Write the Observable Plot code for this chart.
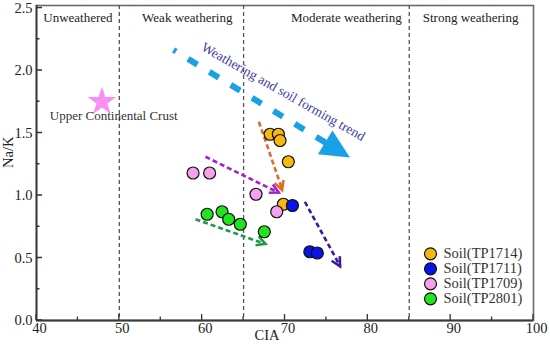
<!DOCTYPE html>
<html><head><meta charset="utf-8">
<script src="https://cdn.jsdelivr.net/npm/d3@7"></script>
<script src="https://cdn.jsdelivr.net/npm/@observablehq/plot@0.6"></script>
<style>body{margin:0;background:#fff} svg text{font-family:"Liberation Serif","DejaVu Serif",serif}</style>
</head><body><div id="chart"></div>
<script>
// ---- axis ticks ----
const xTicks = [40, 50, 60, 70, 80, 90, 100];
const xMinorTicks = [45, 55, 65, 75, 85, 95];
const yTicks = [0, 0.5, 1.0, 1.5, 2.0, 2.5];
const yMinorTicks = [0.25, 0.75, 1.25, 1.75, 2.25];

// ---- weathering zones ----
const boundaries = [50, 65, 85];
const zoneNames = ["Unweathered", "Weak weathering", "Moderate weathering", "Strong weathering"];
const zoneLabelX = [45, 58.2, 77.4, 92.4];

// ---- series ----
const seriesNames = ["Soil(TP1714)", "Soil(TP1711)", "Soil(TP1709)", "Soil(TP2801)"];
const seriesColors = ["#f7b90f", "#0a12e8", "#f7a0ee", "#22e41e"];
const tp1714CIA = [68.2, 69.2, 69.4, 70.4, 69.8];
const tp1714NaK = [1.49, 1.49, 1.44, 1.27, 0.93];
const tp1711CIA = [70.9, 73.0, 73.9];
const tp1711NaK = [0.92, 0.55, 0.54];
const tp1709CIA = [58.9, 60.9, 66.5, 69.0];
const tp1709NaK = [1.18, 1.18, 1.01, 0.87];
const tp2801CIA = [60.6, 62.4, 63.2, 64.6, 67.5];
const tp2801NaK = [0.85, 0.87, 0.81, 0.77, 0.71];

// ---- Upper Continental Crust ----
const uccName = "Upper Continental Crust";
const uccCIA = 47.9, uccNaK = 1.75;
const uccLabelCIA = 41.6, uccLabelNaK = 1.64;

// ---- series trend arrows ----
const arrowColors = ["#e2692c", "#a21fd2", "#3a1ba0", "#1d9a4c"];
const arrowFromCIA = [66.85, 60.4, 72.4, 59.2];
const arrowFromNaK = [1.59, 1.31, 0.95, 0.81];
const arrowToCIA = [69.7, 69.3, 76.7, 67.7];
const arrowToNaK = [1.04, 1.02, 0.43, 0.61];

// ---- overall trend ----
const trendLabel = "Weathering and soil forming trend";
const trendFrom = [56.6, 2.16];
const trendTo = [77.9, 1.30];
const trendLabelAt = [69.8, 1.83];
const trendColor = "#18a1e5";

const FONT = "'Liberation Serif', 'DejaVu Serif', serif";

// build tables
const pointTable = [
  ...tp1714CIA.map((c, i) => ({cia: c, nak: tp1714NaK[i], s: 0})),
  ...tp1711CIA.map((c, i) => ({cia: c, nak: tp1711NaK[i], s: 1})),
  ...tp1709CIA.map((c, i) => ({cia: c, nak: tp1709NaK[i], s: 2})),
  ...tp2801CIA.map((c, i) => ({cia: c, nak: tp2801NaK[i], s: 3}))
];
const arrowTable = arrowFromCIA.map((c, i) => ({
  x1: c, y1: arrowFromNaK[i], x2: arrowToCIA[i], y2: arrowToNaK[i], color: arrowColors[i]
}));

const NS = "http://www.w3.org/2000/svg";
function el(name, attrs) {
  const e = document.createElementNS(NS, name);
  for (const k in attrs) e.setAttribute(k, attrs[k]);
  return e;
}

function ticksMark(index, scales, values, dim) {
  const {x, y} = scales;
  const g = el("g", {});
  const y0 = dim.height - dim.marginBottom;
  const x0 = dim.marginLeft;
  let d = "";
  for (const t of xTicks) d += `M${x(t)},${y0}v-6`;
  for (const t of xMinorTicks) d += `M${x(t)},${y0}v-3.5`;
  for (const t of yTicks) d += `M${x0},${y(t)}h6`;
  for (const t of yMinorTicks) d += `M${x0},${y(t)}h3.5`;
  g.appendChild(el("path", {d, stroke: "#333", "stroke-width": 1.3, fill: "none"}));
  return g;
}

function arrowHeads(index, scales) {
  const {x, y} = scales;
  const g = el("g", {});
  for (const a of arrowTable) {
    const px1 = x(a.x1), py1 = y(a.y1), px2 = x(a.x2), py2 = y(a.y2);
    const ang = Math.atan2(py2 - py1, px2 - px1);
    const L = 10, w = Math.PI / 6.5;
    const ax = px2 - L * Math.cos(ang - w), ay = py2 - L * Math.sin(ang - w);
    const bx = px2 - L * Math.cos(ang + w), by = py2 - L * Math.sin(ang + w);
    g.appendChild(el("path", {
      d: `M${ax},${ay}L${px2},${py2}L${bx},${by}`,
      stroke: a.color, "stroke-width": 2.6, fill: "none",
      "stroke-linejoin": "miter", "stroke-linecap": "butt"
    }));
  }
  return g;
}

function trendArrow(index, scales) {
  const {x, y} = scales;
  const g = el("g", {});
  const x1 = x(trendFrom[0]), y1 = y(trendFrom[1]);
  const x2 = x(trendTo[0]), y2 = y(trendTo[1]);
  const dx = x2 - x1, dy = y2 - y1, L = Math.hypot(dx, dy);
  const ux = dx / L, uy = dy / L;
  const headLen = 29, half = 14;
  const bx = x2 - ux * headLen, by = y2 - uy * headLen;
  g.appendChild(el("line", {
    x1, y1, x2: bx + ux * 2, y2: by + uy * 2,
    stroke: trendColor, "stroke-width": 6,
    "stroke-dasharray": "11,14", "stroke-dashoffset": 8
  }));
  g.appendChild(el("path", {
    d: `M${x2},${y2}L${bx - uy * half},${by + ux * half}L${bx + uy * half},${by - ux * half}Z`,
    fill: trendColor
  }));
  return g;
}

const legendMarks = seriesNames.flatMap((name, i) => [
  Plot.dot([name], {frameAnchor: "bottom-right", dx: -103, dy: -66.7 + 15 * i,
    r: 6, fill: seriesColors[i], stroke: "#111", strokeWidth: 1.2}),
  Plot.text([name], {frameAnchor: "bottom-right", dx: -90, dy: -66.7 + 15 * i,
    text: d => d, textAnchor: "start", lineAnchor: "middle", fontSize: 14.5, fontFamily: FONT, fill: "#333"})
]);

const chart = Plot.plot({
  width: 550,
  height: 344,
  marginLeft: 36,
  marginRight: 17,
  marginTop: 5,
  marginBottom: 24,
  x: {domain: [40, 100], axis: null},
  y: {domain: [0, 2.52], axis: null},
  style: {fontFamily: FONT, fontSize: "14px", color: "#222", background: "#fff"},
  marks: [
    Plot.frame({stroke: "#6a6a6a", strokeWidth: 1.6}),
    Plot.ruleX(boundaries, {stroke: "#555", strokeWidth: 1.3, strokeDasharray: "4,3"}),
    Plot.ruleX([40], {stroke: "#3a3a3a", strokeWidth: 1.8}),
    Plot.ruleY([0], {stroke: "#3a3a3a", strokeWidth: 1.8}),
    ticksMark,
    // tick labels
    Plot.text(xTicks, {x: d => d, frameAnchor: "bottom", lineAnchor: "middle", dy: 8, dx: 3, text: d => String(d), fontSize: 14.5, fontFamily: FONT, fill: "#222"}),
    Plot.text(yTicks, {y: d => d, frameAnchor: "left", lineAnchor: "middle", dx: -4, textAnchor: "end", text: d => d.toFixed(1), fontSize: 14.5, fontFamily: FONT, fill: "#222"}),
    // axis labels
    Plot.text(["CIA"], {frameAnchor: "bottom", lineAnchor: "middle", dy: 15, dx: -18, text: d => d, fontSize: 14.5, fontFamily: FONT, fill: "#222"}),
    Plot.text(["Na/K"], {frameAnchor: "left", lineAnchor: "middle", dx: -28, dy: 5, rotate: -90, text: d => d, fontSize: 14.5, fontFamily: FONT, fill: "#222"}),
    // zone labels
    Plot.text(zoneNames, {x: (d, i) => zoneLabelX[i], frameAnchor: "top", lineAnchor: "middle", dy: 12, text: d => d, fontSize: 13, fontFamily: FONT, fill: "#222"}),
    // overall trend
    trendArrow,
    Plot.text([trendLabel], {x: trendLabelAt[0], y: trendLabelAt[1], rotate: 29.5, lineAnchor: "middle", text: d => d, fontSize: 13.5, fontFamily: FONT, fill: "#3e3e9c"}),
    // UCC
    Plot.dot([uccName], {x: uccCIA, y: uccNaK, symbol: "star", r: 9, fill: "#f98ff2"}),
    Plot.text([uccName], {x: uccLabelCIA, y: uccLabelNaK, lineAnchor: "middle", text: d => d, textAnchor: "start", fontSize: 13, fontFamily: FONT, fill: "#333"}),
    // series arrows
    Plot.link(arrowTable, {x1: "x1", y1: "y1", x2: "x2", y2: "y2", stroke: "color", strokeWidth: 2.6, strokeDasharray: "5,3"}),
    arrowHeads,
    // points
    Plot.dot(pointTable, {x: "cia", y: "nak", r: 6, fill: d => seriesColors[d.s], stroke: "#111", strokeWidth: 1.2}),
    ...legendMarks
  ]
});
document.getElementById("chart").appendChild(chart);
</script>
</body></html>
